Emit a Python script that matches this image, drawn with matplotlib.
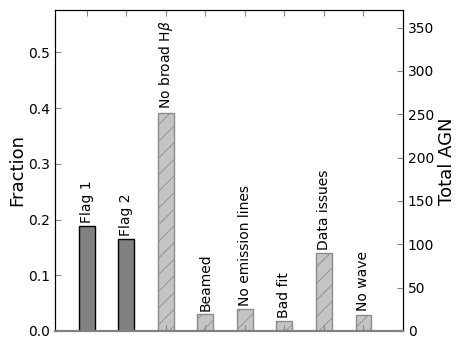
import matplotlib
matplotlib.use("Agg")
import matplotlib.pyplot as plt
import numpy as np

labels = ["Flag 1", "Flag 2", r"No broad H$\beta$", "Beamed", "No emission lines",
          "Bad fit", "Data issues", "No wave"]
fractions = [0.188, 0.165, 0.392, 0.030, 0.039, 0.018, 0.140, 0.029]
hatched = [False, False, True, True, True, True, True, True]
n_total = 643
right_ticks = [0, 50, 100, 150, 200, 250, 300, 350]

plt.rcParams['hatch.color'] = '#a8a8a8'
plt.rcParams['hatch.linewidth'] = 0.6

fig = plt.figure(figsize=(4.63, 3.48), dpi=100)
ax = fig.add_axes([55/463, 1-331/348, (403-55)/463, (331-10)/348])
x = np.arange(len(labels))
for xi, f, h, lab in zip(x, fractions, hatched, labels):
    if h:
        ax.bar(xi, f, width=0.4, color='#c4c4c4', edgecolor='#8c8c8c', hatch='//', linewidth=1.0)
    else:
        ax.bar(xi, f, width=0.4, color='#808080', edgecolor='black', linewidth=1.0)
    ax.text(xi, f + 0.006, lab, rotation=90, ha='center', va='bottom', fontsize=10)

ax.set_xlim(-0.8, 8.0)
ax.set_ylim(0, 0.576)
ax.set_xticks(x)
ax.set_xticklabels([])
ax.set_yticks([0.0, 0.1, 0.2, 0.3, 0.4, 0.5])
ax.tick_params(direction='in', top=True, bottom=True, labelsize=10, length=4, color='#888888')
ax.set_ylabel("Fraction", fontsize=13)
ax.yaxis.set_label_coords(-0.082, 0.5)
ax.spines['bottom'].set_color('#808080')
ax.spines['bottom'].set_linewidth(1.5)

ax2 = ax.twinx()
ax2.set_ylim(0, 0.576 * n_total)
ax2.set_yticks(right_ticks)
ax2.tick_params(direction='in', labelsize=10, length=4, color='#888888')
ax2.set_ylabel("Total AGN", fontsize=13)
ax2.yaxis.set_label_coords(1.100, 0.53)
ax2.spines['bottom'].set_color('#808080')
ax2.spines['bottom'].set_linewidth(1.5)

fig.savefig("out.png", dpi=100)
